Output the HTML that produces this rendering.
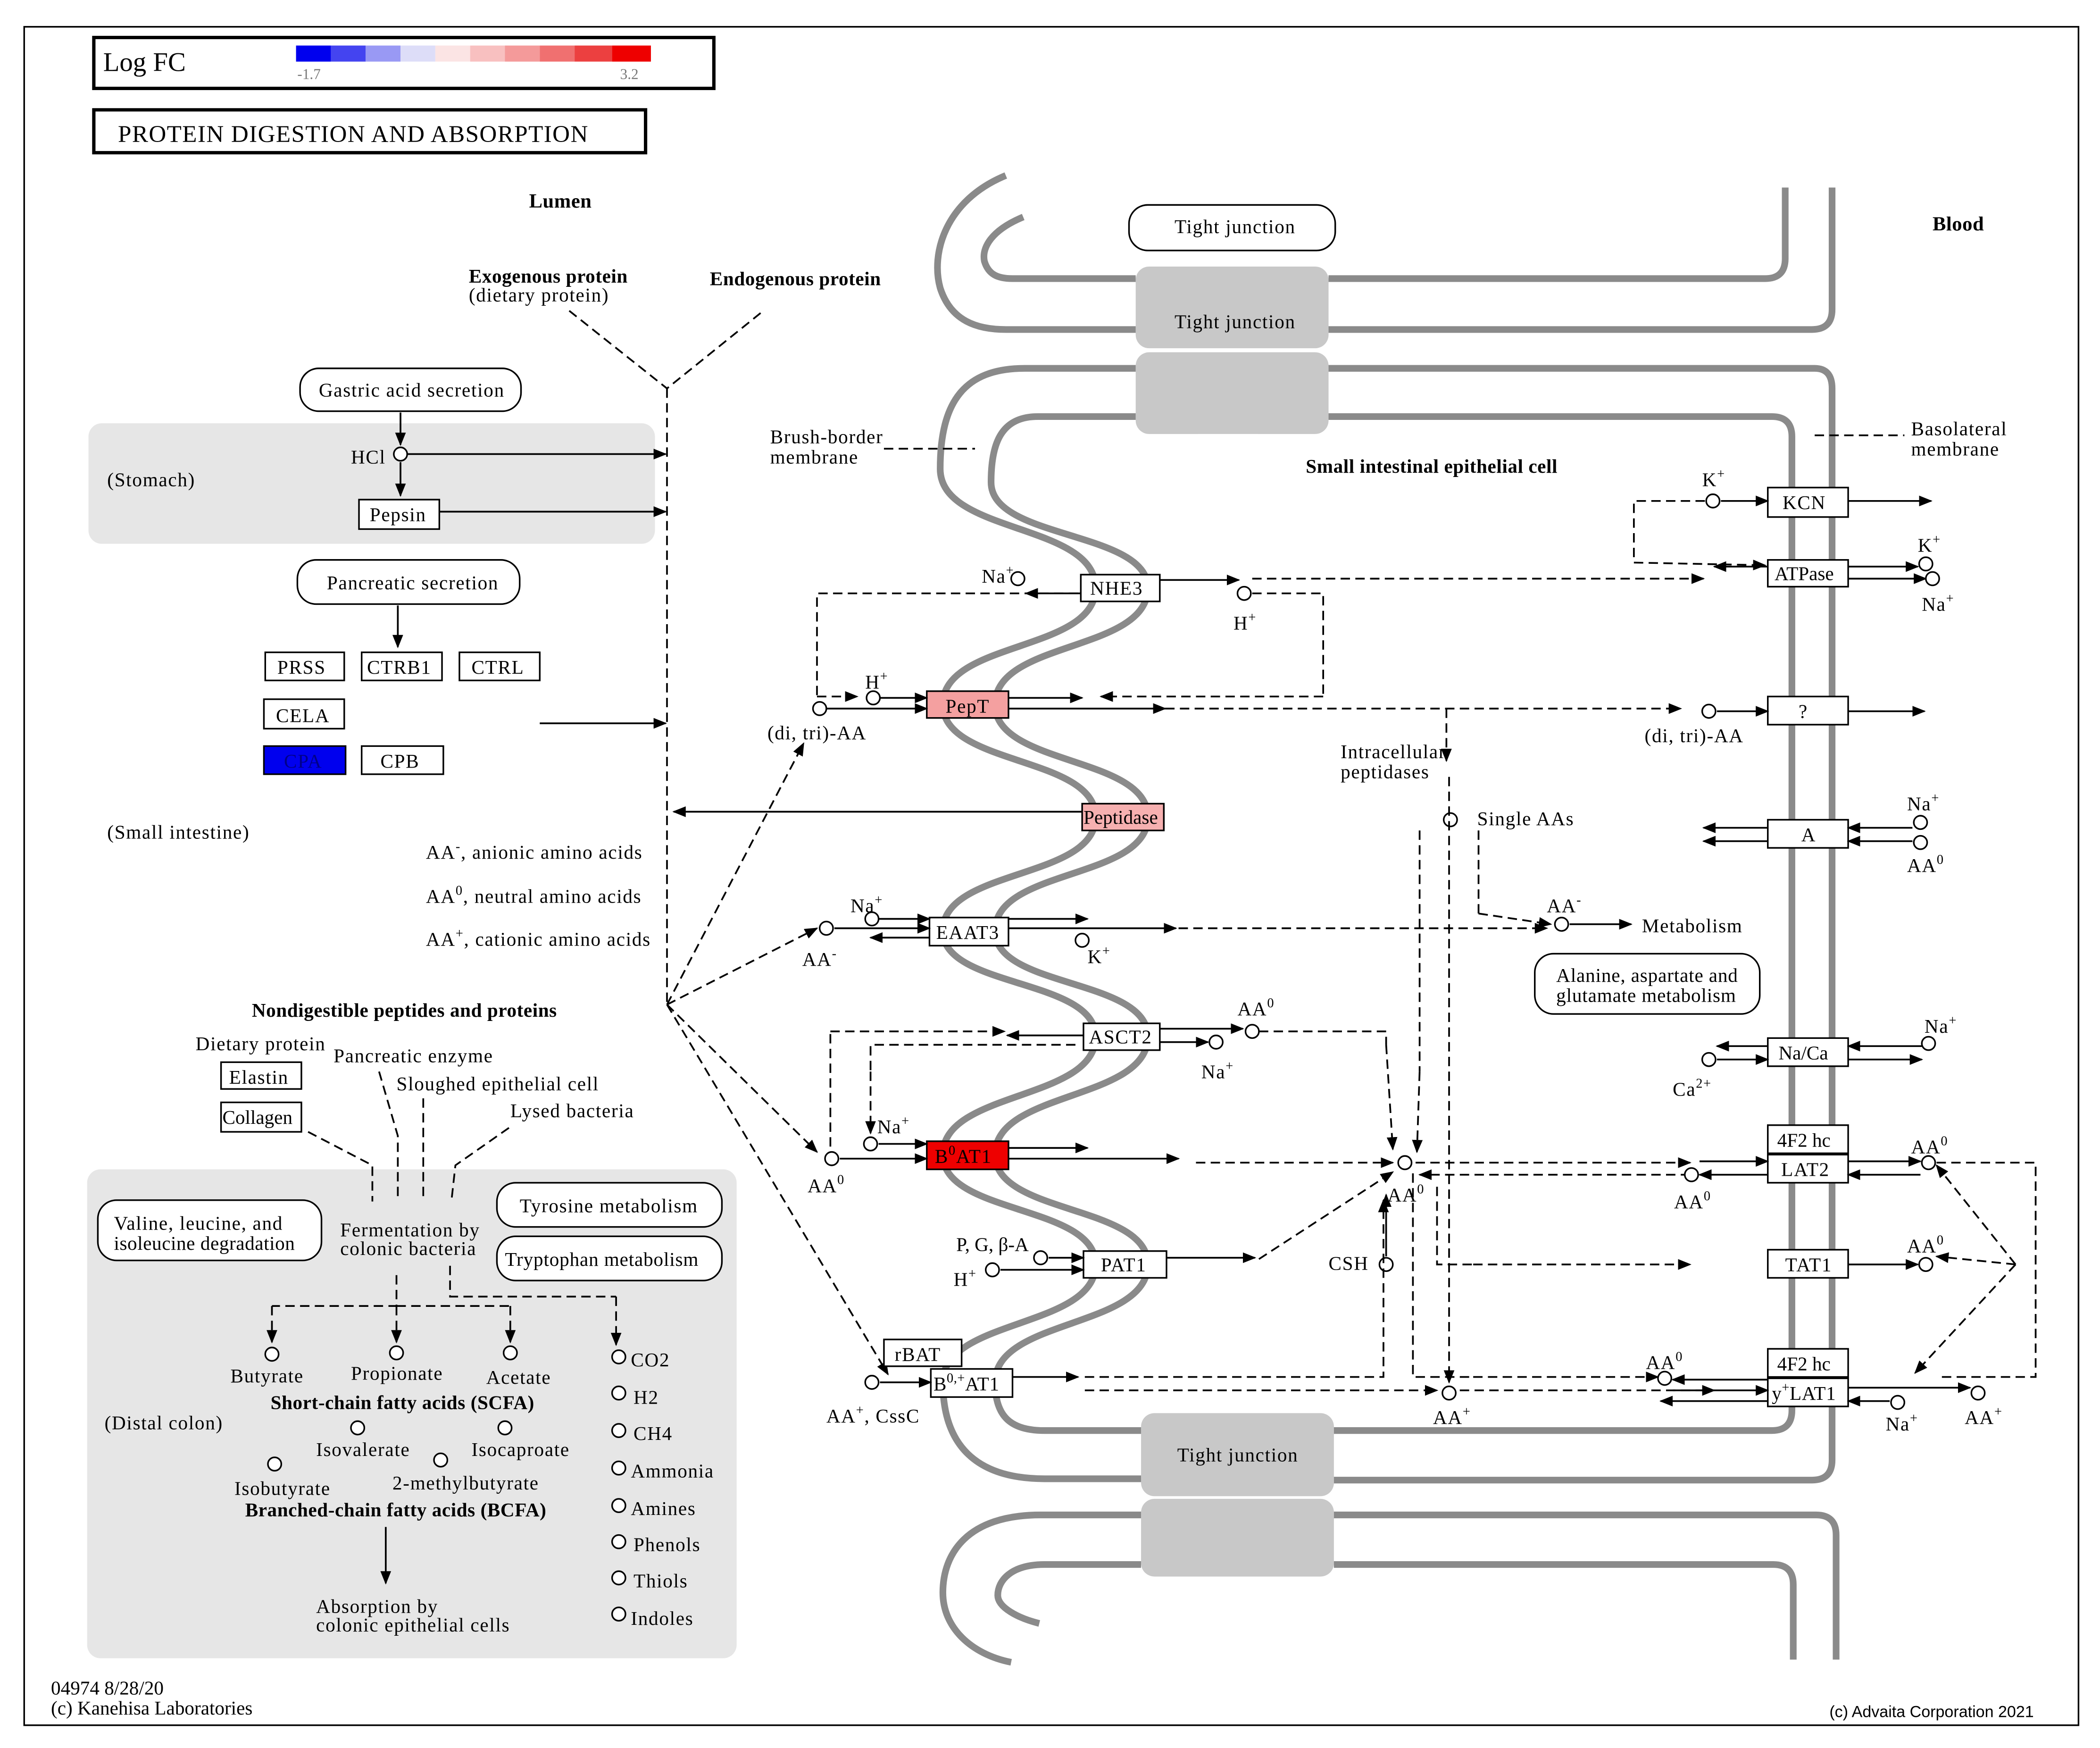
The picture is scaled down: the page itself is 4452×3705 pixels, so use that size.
<!DOCTYPE html>
<html><head><meta charset="utf-8"><style>
html,body{margin:0;padding:0;background:#fff;}
svg{display:block;}
text{font-family:"Liberation Serif",serif;font-size:14.5px;letter-spacing:0.6px;fill:#000;}
.b{font-weight:bold;letter-spacing:0.2px;}
.g{fill:#fff;stroke:#000;stroke-width:1.2;}
.r{fill:#fff;stroke:#000;stroke-width:1.2;}
.c{fill:#fff;stroke:#000;stroke-width:1.2;}
.s{stroke:#000;stroke-width:1.3;fill:none;marker-end:url(#a);}
.d{stroke:#000;stroke-width:1.3;fill:none;stroke-dasharray:7,4;marker-end:url(#a);}
.dn{stroke:#000;stroke-width:1.3;fill:none;stroke-dasharray:7,4;}
.m{stroke:#8a8a8a;stroke-width:5;fill:none;}
.tj{fill:#c8c8c8;}
</style></head><body>
<svg width="4452" height="3705" viewBox="0 0 1568 1305" xmlns="http://www.w3.org/2000/svg">
<defs><marker id="a" markerWidth="10" markerHeight="8" refX="9" refY="4" orient="auto" markerUnits="userSpaceOnUse"><path d="M0,0 L10,4 L0,8 z" fill="#000"/></marker></defs>
<rect x="18" y="20" width="1534" height="1268" fill="#fff" stroke="#000" stroke-width="1.2"/>
<!-- legend -->
<rect x="70" y="28" width="463" height="38" fill="#fff" stroke="#000" stroke-width="2.5"/>
<text x="77" y="53" style="font-size:20px;letter-spacing:0">Log FC</text>
<g>
<rect x="221" y="34" width="26" height="12" fill="#0000ee"/>
<rect x="247" y="34" width="26" height="12" fill="#4444f0"/>
<rect x="273" y="34" width="26" height="12" fill="#9999f4"/>
<rect x="299" y="34" width="26" height="12" fill="#ddddf8"/>
<rect x="325" y="34" width="26" height="12" fill="#fbe4e4"/>
<rect x="351" y="34" width="26" height="12" fill="#f8c0c0"/>
<rect x="377" y="34" width="26" height="12" fill="#f49a9a"/>
<rect x="403" y="34" width="26" height="12" fill="#f07070"/>
<rect x="429" y="34" width="28" height="12" fill="#ec4040"/>
<rect x="457" y="34" width="29" height="12" fill="#ee0000"/>
</g>
<text x="222" y="59" style="font-size:11px;fill:#777;letter-spacing:0">-1.7</text>
<text x="463" y="59" style="font-size:11px;fill:#777;letter-spacing:0">3.2</text>
<rect x="70" y="82" width="412" height="32" fill="#fff" stroke="#000" stroke-width="2.5"/>
<text x="88" y="106" style="font-size:18px;letter-spacing:0.5px">PROTEIN DIGESTION AND ABSORPTION</text>

<text x="395" y="155" class="b" style="font-size:15px">Lumen</text>
<text x="1443" y="172" class="b" style="font-size:15px">Blood</text>
<text x="350" y="211" class="b">Exogenous protein</text>
<text x="350" y="225">(dietary protein)</text>
<text x="530" y="213" class="b">Endogenous protein</text>

<!-- gray regions -->
<rect x="66" y="316" width="423" height="90" rx="10" fill="#e6e6e6"/>
<rect x="65" y="873" width="485" height="365" rx="10" fill="#e6e6e6"/>
<text x="80" y="363">(Stomach)</text>
<text x="80" y="626">(Small intestine)</text>
<text x="78" y="1067">(Distal colon)</text>

<!-- membranes -->
<rect class="tj" x="848" y="199" width="144" height="61" rx="10"/>
<rect class="tj" x="848" y="263" width="144" height="61" rx="10"/>
<rect class="tj" x="852" y="1055" width="144" height="62" rx="10"/>
<rect class="tj" x="852" y="1119" width="144" height="58" rx="10"/>
<path class="m" d="M751,131 C705,150 695,190 702,215 C710,240 730,246 751,246 L848,246"/>
<path class="m" d="M764,162 C740,172 733,185 735,195 C738,205 745,208 756,208 L848,208"/>
<path class="m" d="M992,208 L1318,208 Q1333,208 1333,193 L1333,140"/>
<path class="m" d="M992,246 L1353,246 Q1368,246 1368,231 L1368,140"/>
<path class="m" d="M992,275 L1355,275 Q1368,275 1368,290 L1368,1090 Q1368,1105 1353,1105 L996,1105"/>
<path class="m" d="M992,311 L1323,311 Q1338,311 1338,326 L1338,1053 Q1338,1068 1323,1068 L996,1068"/>
<path class="m" d="M996,1131 L1356,1131 Q1371,1131 1371,1146 L1371,1239"/>
<path class="m" d="M996,1168 L1324,1168 Q1339,1168 1339,1183 L1339,1239"/>
<path class="m" d="M848,275 L765,275 C720,275 702,300 702,350 C702,399 818,390 818,439 C818,487 704,478 704,526 C704,572 818,564 818,610 C818,657 704,648 704,695 C704,738 818,730 818,774 C818,822 704,814 704,862 C704,907 818,899 818,944 C818,992 704,984 704,1032 C704,1080 730,1104 780,1104 L852,1104"/>
<path class="m" d="M848,311 L775,311 C748,311 740,330 740,360 C740,403 857,396 857,439 C857,487 743,478 743,526 C743,572 857,564 857,610 C857,657 743,648 743,695 C743,738 857,730 857,774 C857,822 743,814 743,862 C743,907 857,899 857,944 C857,992 743,984 743,1032 C743,1058 755,1068 780,1068 L852,1068"/>
<path class="m" d="M852,1131 L777,1131 C722,1131 704,1160 704,1189 C704,1215 725,1235 755,1241"/>
<path class="m" d="M852,1168 L780,1168 C755,1168 745,1180 745,1191 C745,1200 760,1208 776,1212"/>
<text x="877" y="245">Tight junction</text>
<text x="879" y="1091">Tight junction</text>
<rect class="g" x="843" y="153" width="154" height="34" rx="14"/>
<text x="877" y="174">Tight junction</text>

<text x="575" y="331">Brush-border</text><text x="575" y="346">membrane</text>
<path class="dn" d="M660,335 L728,335"/>
<text x="1427" y="325">Basolateral</text><text x="1427" y="340">membrane</text>
<path class="dn" d="M1355,325 L1422,325"/>
<text x="975" y="353" class="b">Small intestinal epithelial cell</text>

<!-- left pathway -->
<rect class="g" x="224" y="275" width="165" height="32" rx="14"/><text x="238" y="296">Gastric acid secretion</text>
<path class="s" d="M299,308 L299,332"/>
<circle class="c" cx="299" cy="339" r="5"/><text x="262" y="346">HCl</text>
<path class="s" d="M304,339 L497,339"/>
<path class="s" d="M299,345 L299,370"/>
<rect class="r" x="268" y="373" width="60" height="22"/><text x="276" y="389">Pepsin</text>
<path class="s" d="M328,382 L497,382"/>
<rect class="g" x="222" y="418" width="166" height="33" rx="14"/><text x="244" y="440">Pancreatic secretion</text>
<path class="s" d="M297,452 L297,483"/>
<rect class="r" x="198" y="487" width="59" height="21"/><text x="207" y="503">PRSS</text>
<rect class="r" x="270" y="487" width="60" height="21"/><text x="274" y="503">CTRB1</text>
<rect class="r" x="343" y="487" width="60" height="21"/><text x="352" y="503">CTRL</text>
<rect class="r" x="197" y="522" width="60" height="22"/><text x="206" y="539">CELA</text>
<rect x="197" y="557" width="61" height="21" fill="#0000ee" stroke="#000" stroke-width="1.2"/><text x="212" y="573" style="fill:#00008a">CPA</text>
<rect class="r" x="270" y="557" width="61" height="21"/><text x="284" y="573">CPB</text>
<path class="s" d="M403,540 L497,540"/>
<path class="dn" d="M425,232 L498,290 L570,232"/>
<path class="dn" d="M498,290 L498,752"/>
<rect x="808" y="600" width="61" height="20" fill="#f6b0b0" stroke="#000" stroke-width="1.2"/><text x="809" y="615" style="letter-spacing:0">Peptidase</text>
<path class="s" d="M808,606 L503,606"/>
<text x="318" y="641">AA<tspan dy="-6" style="font-size:10px">-</tspan><tspan dy="6">, anionic amino acids</tspan></text>
<text x="318" y="674">AA<tspan dy="-6" style="font-size:10px">0</tspan><tspan dy="6">, neutral amino acids</tspan></text>
<text x="318" y="706">AA<tspan dy="-6" style="font-size:10px">+</tspan><tspan dy="6">, cationic amino acids</tspan></text>
<path class="d" d="M498,750 L600,555"/>
<path class="d" d="M498,750 L610,693"/>
<path class="d" d="M498,750 L610,860"/>
<path class="d" d="M498,750 L663,1026"/>

<!-- colon -->
<text x="188" y="759" class="b">Nondigestible peptides and proteins</text>
<text x="146" y="784">Dietary protein</text>
<text x="249" y="793">Pancreatic enzyme</text>
<text x="296" y="814">Sloughed epithelial cell</text>
<text x="381" y="834">Lysed bacteria</text>
<rect class="r" x="165" y="793" width="60" height="20"/><text x="171" y="809">Elastin</text>
<rect class="r" x="165" y="823" width="60" height="22"/><text x="166" y="839" style="letter-spacing:0">Collagen</text>
<path class="dn" d="M230,845 L278,870 L278,897"/>
<path class="dn" d="M283,800 L297,848 L297,897"/>
<path class="dn" d="M316,820 L316,897"/>
<path class="dn" d="M380,842 L340,870 L337,897"/>
<text x="254" y="923">Fermentation by</text><text x="254" y="937">colonic bacteria</text>
<rect class="g" x="73" y="896" width="167" height="45" rx="14"/><text x="85" y="918">Valine, leucine, and</text><text x="85" y="933" style="letter-spacing:0.2px">isoleucine degradation</text>
<rect class="g" x="371" y="883" width="168" height="33" rx="14"/><text x="388" y="905">Tyrosine metabolism</text>
<rect class="g" x="371" y="923" width="168" height="33" rx="14"/><text x="377" y="945" style="letter-spacing:0.3px">Tryptophan metabolism</text>
<path class="dn" d="M296,952 L296,975 L203,975"/><path class="d" d="M203,975 L203,1002"/>
<path class="d" d="M296,975 L296,1002"/>
<path class="dn" d="M296,975 L381,975"/><path class="d" d="M381,975 L381,1002"/>
<path class="dn" d="M336,945 L336,968 L460,968"/><path class="d" d="M460,968 L460,1004"/>
<g class="c"><circle cx="203" cy="1011" r="5"/><circle cx="296" cy="1010" r="5"/><circle cx="381" cy="1010" r="5"/><circle cx="267" cy="1066" r="5"/><circle cx="377" cy="1066" r="5"/><circle cx="205" cy="1093" r="5"/><circle cx="329" cy="1090" r="5"/>
<circle cx="462" cy="1013" r="5"/><circle cx="462" cy="1040" r="5"/><circle cx="462" cy="1068" r="5"/><circle cx="462" cy="1096" r="5"/><circle cx="462" cy="1124" r="5"/><circle cx="462" cy="1151" r="5"/><circle cx="462" cy="1178" r="5"/><circle cx="462" cy="1205" r="5"/></g>
<text x="172" y="1032">Butyrate</text><text x="262" y="1030">Propionate</text><text x="363" y="1033">Acetate</text>
<text x="202" y="1052" class="b">Short-chain fatty acids (SCFA)</text>
<text x="236" y="1087">Isovalerate</text><text x="352" y="1087">Isocaproate</text>
<text x="175" y="1116">Isobutyrate</text><text x="293" y="1112">2-methylbutyrate</text>
<text x="183" y="1132" class="b">Branched-chain fatty acids (BCFA)</text>
<path class="s" d="M288,1140 L288,1182"/>
<text x="236" y="1204">Absorption by</text><text x="236" y="1218">colonic epithelial cells</text>
<text x="471" y="1020">CO2</text><text x="473" y="1048">H2</text><text x="473" y="1075">CH4</text><text x="471" y="1103">Ammonia</text><text x="471" y="1131">Amines</text><text x="473" y="1158">Phenols</text><text x="473" y="1185">Thiols</text><text x="471" y="1213">Indoles</text>

<!-- transporters apical -->
<rect class="r" x="807" y="429" width="59" height="20"/><text x="814" y="444">NHE3</text>
<circle class="c" cx="760" cy="432" r="5"/><text x="733" y="435">Na<tspan dy="-6" style="font-size:10px">+</tspan></text>
<path class="s" d="M866,433 L925,433"/><path class="s" d="M807,443 L766,443"/>
<circle class="c" cx="929" cy="443" r="5"/><text x="921" y="470">H<tspan dy="-6" style="font-size:10px">+</tspan></text>
<path class="d" d="M935,432 L1272,432"/>
<path class="dn" d="M935,443 L988,443 L988,520"/><path class="d" d="M988,520 L822,520"/>
<path class="dn" d="M805,443 L610,443 L610,520"/><path class="d" d="M610,520 L640,520"/>
<rect x="692" y="516" width="61" height="20" fill="#f4a0a0" stroke="#000" stroke-width="1.2"/><text x="706" y="532">PepT</text>
<circle class="c" cx="612" cy="529" r="5"/><text x="573" y="552">(di, tri)-AA</text>
<circle class="c" cx="652" cy="521" r="5"/><text x="646" y="514">H<tspan dy="-6" style="font-size:10px">+</tspan></text>
<path class="s" d="M617,529 L692,529"/><path class="s" d="M657,521 L692,521"/>
<path class="s" d="M753,521 L808,521"/><path class="s" d="M753,529 L870,529"/>
<path class="d" d="M870,529 L1255,529"/>
<path class="dn" d="M1080,529 L1080,540"/><path class="d" d="M1080,540 L1080,568"/>
<text x="1001" y="566">Intracellular</text><text x="1001" y="581">peptidases</text>
<circle class="c" cx="1083" cy="612" r="5"/><text x="1103" y="616">Single AAs</text>
<path class="dn" d="M1104,620 L1104,682"/><path class="d" d="M1104,682 L1158,690"/>
<circle class="c" cx="1166" cy="690" r="5"/><text x="1155" y="681">AA<tspan dy="-6" style="font-size:10px">-</tspan></text>
<path class="s" d="M1172,690 L1218,690"/><text x="1226" y="696">Metabolism</text>
<rect class="g" x="1146" y="712" width="168" height="45" rx="14"/><text x="1162" y="733" style="letter-spacing:0.3px">Alanine, aspartate and</text><text x="1162" y="748" style="letter-spacing:0.3px">glutamate metabolism</text>

<rect class="r" x="694" y="685" width="59" height="21"/><text x="699" y="701">EAAT3</text>
<circle class="c" cx="617" cy="693" r="5"/><text x="599" y="721">AA<tspan dy="-6" style="font-size:10px">-</tspan></text>
<circle class="c" cx="651" cy="686" r="5"/><text x="635" y="681">Na<tspan dy="-6" style="font-size:10px">+</tspan></text>
<circle class="c" cx="808" cy="702" r="5"/><text x="812" y="719">K<tspan dy="-6" style="font-size:10px">+</tspan></text>
<path class="s" d="M623,693 L694,693"/><path class="s" d="M656,686 L694,686"/>
<path class="s" d="M753,686 L812,686"/><path class="s" d="M753,693 L878,693"/><path class="s" d="M694,700 L650,700"/>
<path class="d" d="M880,693 L1155,693"/>

<rect class="r" x="809" y="764" width="57" height="20"/><text x="813" y="779">ASCT2</text>
<circle class="c" cx="935" cy="770" r="5"/><text x="924" y="758">AA<tspan dy="-6" style="font-size:10px">0</tspan></text>
<circle class="c" cx="908" cy="778" r="5"/><text x="897" y="805">Na<tspan dy="-6" style="font-size:10px">+</tspan></text>
<path class="s" d="M866,768 L928,768"/><path class="s" d="M866,778 L902,778"/><path class="s" d="M809,773 L752,773"/>
<path class="dn" d="M940,770 L1035,770 L1035,780"/><path class="d" d="M1035,780 L1040,858"/>
<path class="dn" d="M803,780 L650,780 L650,800"/><path class="d" d="M650,800 L650,846"/>
<path class="dn" d="M620,856 L620,770"/><path class="d" d="M620,770 L750,770"/>

<rect x="692" y="852" width="61" height="21" fill="#ee0000" stroke="#000" stroke-width="1.2"/><text x="698" y="868">B<tspan dy="-6" style="font-size:10px">0</tspan><tspan dy="6">AT1</tspan></text>
<circle class="c" cx="650" cy="854" r="5"/><text x="655" y="846">Na<tspan dy="-6" style="font-size:10px">+</tspan></text>
<circle class="c" cx="621" cy="865" r="5"/><text x="603" y="890">AA<tspan dy="-6" style="font-size:10px">0</tspan></text>
<path class="s" d="M627,865 L692,865"/><path class="s" d="M656,854 L692,854"/>
<path class="s" d="M753,857 L812,857"/><path class="s" d="M753,865 L880,865"/>
<path class="d" d="M893,868 L1040,868"/>
<circle class="c" cx="1049" cy="868" r="5"/><text x="1036" y="897">AA<tspan dy="-6" style="font-size:10px">0</tspan></text>

<rect class="r" x="809" y="934" width="62" height="20"/><text x="822" y="949">PAT1</text>
<circle class="c" cx="777" cy="939" r="5"/><text x="714" y="934" style="letter-spacing:0">P, G, β-A</text>
<circle class="c" cx="741" cy="948" r="5"/><text x="712" y="960">H<tspan dy="-6" style="font-size:10px">+</tspan></text>
<path class="s" d="M783,939 L809,939"/><path class="s" d="M747,948 L809,948"/>
<path class="s" d="M871,939 L937,939"/>
<path class="d" d="M940,940 L1040,875"/>
<circle class="c" cx="1035" cy="944" r="5"/><text x="992" y="948">CSH</text>
<path class="s" d="M1035,938 L1035,892"/>

<rect class="r" x="660" y="1000" width="58" height="20"/><text x="668" y="1016">rBAT</text>
<rect class="r" x="695" y="1022" width="61" height="21"/><text x="697" y="1038" style="letter-spacing:0.2px">B<tspan dy="-6" style="font-size:10px">0,+</tspan><tspan dy="6">AT1</tspan></text>
<circle class="c" cx="651" cy="1032" r="5"/><text x="617" y="1062">AA<tspan dy="-6" style="font-size:10px">+</tspan><tspan dy="6">, CssC</tspan></text>
<path class="s" d="M657,1032 L695,1032"/><path class="s" d="M756,1028 L805,1028"/>
<path class="dn" d="M810,1028 L1033,1028 L1033,910"/><path class="d" d="M1033,910 L1033,896"/>
<path class="d" d="M810,1038 L1073,1038"/>
<circle class="c" cx="1082" cy="1040" r="5"/><text x="1070" y="1063">AA<tspan dy="-6" style="font-size:10px">+</tspan></text>
<path class="d" d="M1082,580 L1082,1032"/>
<path class="dn" d="M1060,620 L1060,800"/><path class="d" d="M1060,800 L1058,860"/>
<path class="dn" d="M1055,876 L1055,1028 L1100,1028"/><path class="d" d="M1100,1028 L1238,1028"/>
<path class="dn" d="M1073,886 L1073,944 L1100,944"/><path class="d" d="M1100,944 L1262,944"/>
<path class="d" d="M1057,868 L1262,868"/>
<path class="d" d="M1262,877 L1060,877"/>

<!-- basolateral -->
<rect class="r" x="1320" y="364" width="60" height="22"/><text x="1331" y="380">KCN</text>
<circle class="c" cx="1279" cy="374" r="5"/><text x="1271" y="363">K<tspan dy="-6" style="font-size:10px">+</tspan></text>
<path class="s" d="M1285,374 L1320,374"/><path class="s" d="M1380,374 L1442,374"/>
<path class="dn" d="M1273,374 L1220,374 L1220,420"/><path class="d" d="M1220,420 L1318,422"/>
<rect class="r" x="1320" y="418" width="60" height="20"/><text x="1325" y="433" style="letter-spacing:0">ATPase</text>
<path class="s" d="M1320,423 L1280,423"/><path class="s" d="M1380,423 L1432,423"/><path class="s" d="M1380,432 L1438,432"/>
<circle class="c" cx="1438" cy="421" r="5"/><text x="1432" y="412">K<tspan dy="-6" style="font-size:10px">+</tspan></text>
<circle class="c" cx="1443" cy="432" r="5"/><text x="1435" y="456">Na<tspan dy="-6" style="font-size:10px">+</tspan></text>
<rect class="r" x="1320" y="520" width="60" height="21"/><text x="1343" y="536">?</text>
<circle class="c" cx="1276" cy="531" r="5"/><text x="1228" y="554">(di, tri)-AA</text>
<path class="s" d="M1282,531 L1320,531"/><path class="s" d="M1380,531 L1437,531"/>
<rect class="r" x="1320" y="612" width="60" height="21"/><text x="1345" y="628">A</text>
<path class="s" d="M1320,618 L1272,618"/><path class="s" d="M1320,628 L1272,628"/>
<path class="s" d="M1428,618 L1380,618"/><path class="s" d="M1428,628 L1380,628"/>
<circle class="c" cx="1434" cy="614" r="5"/><text x="1424" y="605">Na<tspan dy="-6" style="font-size:10px">+</tspan></text>
<circle class="c" cx="1434" cy="629" r="5"/><text x="1424" y="651">AA<tspan dy="-6" style="font-size:10px">0</tspan></text>
<rect class="r" x="1320" y="775" width="60" height="21"/><text x="1328" y="791" style="letter-spacing:0">Na/Ca</text>
<circle class="c" cx="1276" cy="791" r="5"/><text x="1249" y="818">Ca<tspan dy="-6" style="font-size:10px">2+</tspan></text>
<circle class="c" cx="1440" cy="779" r="5"/><text x="1437" y="771">Na<tspan dy="-6" style="font-size:10px">+</tspan></text>
<path class="s" d="M1320,781 L1282,781"/><path class="s" d="M1282,791 L1320,791"/><path class="s" d="M1435,781 L1380,781"/><path class="s" d="M1380,791 L1435,791"/>
<rect class="r" x="1320" y="840" width="60" height="21"/><text x="1327" y="856" style="letter-spacing:0">4F2 hc</text>
<rect class="r" x="1320" y="862" width="60" height="21"/><text x="1330" y="878">LAT2</text>
<circle class="c" cx="1263" cy="877" r="5"/><text x="1250" y="902">AA<tspan dy="-6" style="font-size:10px">0</tspan></text>
<circle class="c" cx="1440" cy="868" r="5"/><text x="1427" y="861">AA<tspan dy="-6" style="font-size:10px">0</tspan></text>
<path class="s" d="M1320,877 L1269,877"/><path class="s" d="M1269,867 L1320,867"/><path class="s" d="M1380,867 L1434,867"/><path class="s" d="M1434,877 L1380,877"/>
<path class="dn" d="M1446,868 L1520,868 L1520,1028 L1450,1028"/>
<path class="d" d="M1505,944 L1430,1025"/><path class="d" d="M1505,944 L1446,938"/><path class="d" d="M1505,944 L1446,870"/>
<rect class="r" x="1320" y="933" width="60" height="21"/><text x="1333" y="949">TAT1</text>
<circle class="c" cx="1438" cy="944" r="5"/><text x="1424" y="935">AA<tspan dy="-6" style="font-size:10px">0</tspan></text>
<path class="s" d="M1380,944 L1432,944"/>
<rect class="r" x="1320" y="1007" width="60" height="21"/><text x="1327" y="1023" style="letter-spacing:0">4F2 hc</text>
<rect class="r" x="1320" y="1029" width="60" height="21"/><text x="1323" y="1045" style="letter-spacing:0.2px">y<tspan dy="-6" style="font-size:10px">+</tspan><tspan dy="6">LAT1</tspan></text>
<circle class="c" cx="1243" cy="1029" r="5"/><text x="1229" y="1022">AA<tspan dy="-6" style="font-size:10px">0</tspan></text>
<circle class="c" cx="1417" cy="1047" r="5"/><text x="1408" y="1068">Na<tspan dy="-6" style="font-size:10px">+</tspan></text>
<circle class="c" cx="1477" cy="1040" r="5"/><text x="1467" y="1063">AA<tspan dy="-6" style="font-size:10px">+</tspan></text>
<path class="s" d="M1320,1030 L1249,1030"/><path class="s" d="M1320,1046 L1240,1046"/><path class="s" d="M1249,1038 L1320,1038"/>
<path class="s" d="M1380,1036 L1471,1036"/><path class="s" d="M1411,1046 L1380,1046"/>
<path class="d" d="M1090,1038 L1280,1038"/>

<text x="38" y="1265" style="letter-spacing:0">04974 8/28/20</text>
<text x="38" y="1280" style="letter-spacing:0">(c) Kanehisa Laboratories</text>
<text x="1366" y="1282" style="font-family:'Liberation Sans',sans-serif;font-size:12px;letter-spacing:0">(c) Advaita Corporation 2021</text>
</svg>
</body></html>
